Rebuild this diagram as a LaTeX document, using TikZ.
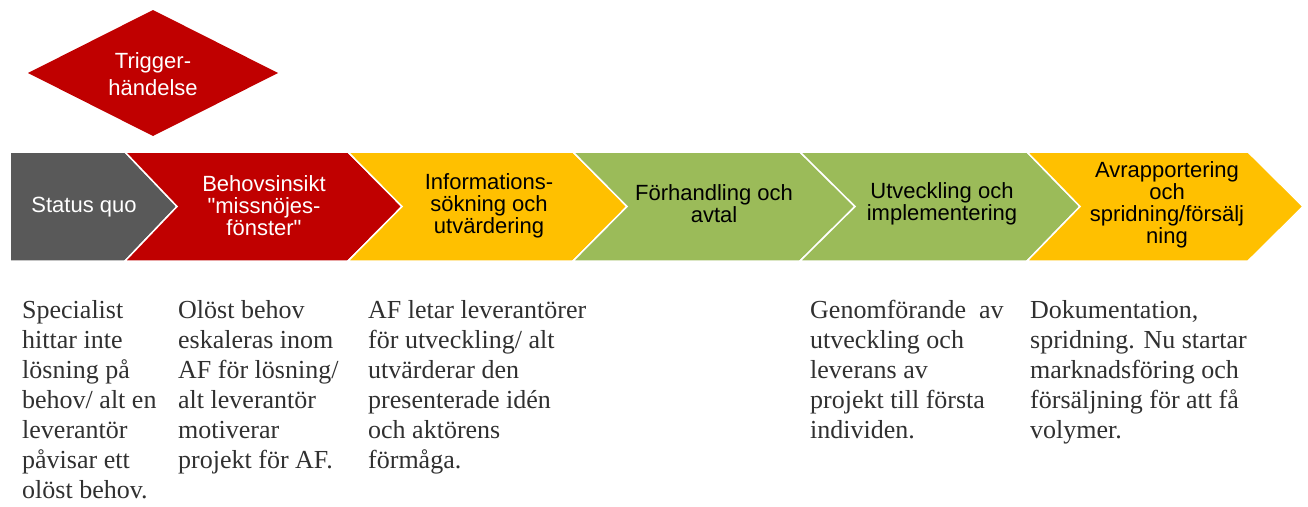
\documentclass[tikz,border=0pt]{standalone}
\usepackage{fontspec}
\setmainfont{Liberation Serif}
\setsansfont{Liberation Sans}
\newfontfamily\qfont{Liberation Sans}[Ligatures=TeXOff]
\definecolor{cgrey}{HTML}{595959}
\definecolor{cred}{HTML}{C00000}
\definecolor{cyellow}{HTML}{FFC000}
\definecolor{cgreen}{HTML}{9BBB59}
\definecolor{ctext}{HTML}{303030}
\newcommand{\dq}{{\qfont\symbol{34}}}
\tikzset{
  chev/.style={draw=white, line width=1.5pt, line join=miter},
  chevtext/.style={font=\sffamily\fontsize{22}{22}\selectfont, align=center, inner sep=0pt},
  bodytext/.style={font=\fontsize{26}{30}\selectfont, align=left, anchor=base west, inner sep=0pt, text=ctext}
}
\begin{document}
\begin{tikzpicture}[x=1pt, y=-1pt]
\useasboundingbox (0,0) rectangle (1308,506);
% trigger diamond
\fill[cred] (28,73) -- (153,10) -- (278,73) -- (153,136) -- cycle;
\node[chevtext, text=white, font=\sffamily\fontsize{22}{27}\selectfont] (trig) at (153,74) {Trigger-\\händelse};
% chevrons
\def\ty{152} \def\by{261} \def\my{206.5}
\filldraw[chev, fill=cgrey] (10,\ty) -- (125,\ty) -- (177,\my) -- (125,\by) -- (10,\by) -- cycle;
\filldraw[chev, fill=cred] (125,\ty) -- (348,\ty) -- (402,\my) -- (348,\by) -- (125,\by) -- (177,\my) -- cycle;
\filldraw[chev, fill=cyellow] (348,\ty) -- (573,\ty) -- (627,\my) -- (573,\by) -- (348,\by) -- (402,\my) -- cycle;
\filldraw[chev, fill=cgreen] (573,\ty) -- (800,\ty) -- (855,\my) -- (800,\by) -- (573,\by) -- (627,\my) -- cycle;
\filldraw[chev, fill=cgreen] (800,\ty) -- (1027,\ty) -- (1080,\my) -- (1027,\by) -- (800,\by) -- (855,\my) -- cycle;
\filldraw[chev, fill=cyellow] (1027,\ty) -- (1248,\ty) -- (1303,\my) -- (1248,\by) -- (1027,\by) -- (1080,\my) -- cycle;
% chevron texts
\node[chevtext, text=white] (sq) at (84,207) {Status quo};
\node[chevtext, text=white] (beh) at (264,206) {Behovsinsikt\\\dq missnöjes-\\fönster\dq};
\node[chevtext, text=black] (info) at (489,206) {Informations-\\sökning och\\utvärdering};
\node[chevtext, text=black] (forh) at (714,204) {Förhandling och\\avtal};
\node[chevtext, text=black] (utv) at (942,204) {Utveckling och\\implementering};
\node[chevtext, text=black] (avr) at (1167,205) {Avrapportering\\och\\spridning/försälj\\ning};
% descriptions (anchor = baseline of last line)
\node[bodytext] (d1) at (22,498) {Specialist\\hittar inte\\lösning på\\behov/ alt en\\leverantör\\påvisar ett\\olöst behov.};
\node[bodytext] (d2) at (178,468) {Olöst behov\\eskaleras inom\\AF för lösning/\\alt leverantör\\motiverar\\projekt för AF.};
\node[bodytext] (d3) at (368,468) {AF letar leverantörer\\för utveckling/ alt\\utvärderar den\\presenterade idén\\och aktörens\\förmåga.};
\node[bodytext] (d5) at (810,438) {Genomförande\ \ av\\utveckling och\\leverans av\\projekt till första\\individen.};
\node[bodytext] (d6) at (1030,438) {Dokumentation,\\spridning. Nu startar\\marknadsföring och\\försäljning för att få\\volymer.};
\end{tikzpicture}
\end{document}
